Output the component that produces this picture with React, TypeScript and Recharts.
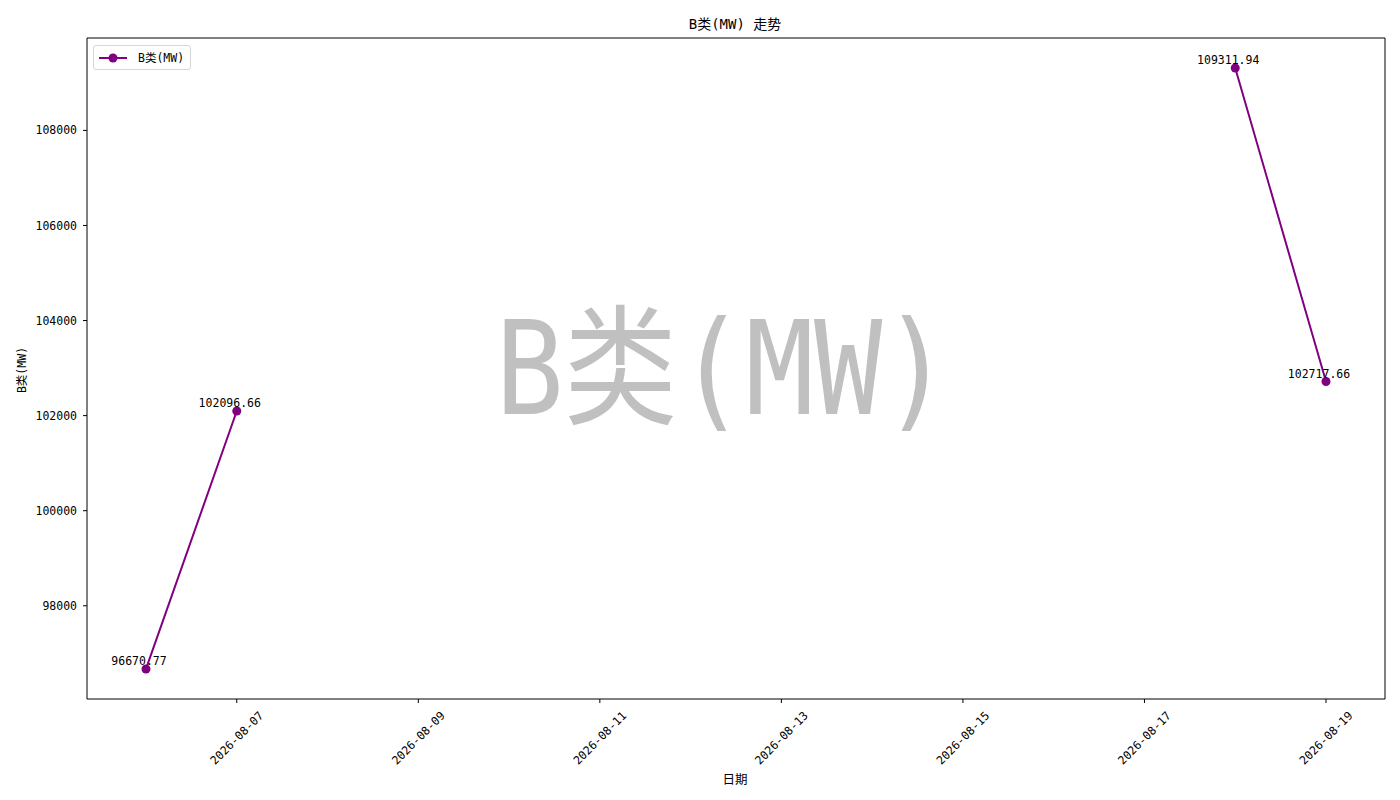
import React from 'react'
import { LineChart, Line, XAxis, YAxis, ReferenceArea, LabelList } from 'recharts'

const FONT = "'DejaVu Sans Mono', 'Noto Sans CJK SC', monospace"
const PURPLE = '#800080'

const dates = [
  '2026-08-06', '2026-08-07', '2026-08-08', '2026-08-09', '2026-08-10', '2026-08-11', '2026-08-12',
  '2026-08-13', '2026-08-14', '2026-08-15', '2026-08-16', '2026-08-17', '2026-08-18', '2026-08-19',
]
const values: (number | null)[] = [
  96670.77, 102096.66, null, null, null, null, null,
  null, null, null, null, null, 109311.94, 102717.66,
]
const xTickLabels = ['2026-08-07', '2026-08-09', '2026-08-11', '2026-08-13', '2026-08-15', '2026-08-17', '2026-08-19']
const yTicks = [98000, 100000, 102000, 104000, 106000, 108000]

const seriesName = 'B类(MW)'
const title = 'B类(MW) 走势'
const xLabel = '日期'

const DAY = 86400000
const toTime = (s: string) => Date.parse(s + 'T00:00:00Z')
const fmtDate = (t: number) => new Date(t).toISOString().slice(0, 10)

const data = dates.map((d, i) => ({ t: toTime(d), value: values[i] }))

// matplotlib-style 5% margins
const t0 = toTime(dates[0])
const t1 = toTime(dates[dates.length - 1])
const xDomain = [t0 - (t1 - t0) * 0.05, t1 + (t1 - t0) * 0.05]
const nums = values.filter((v): v is number => v !== null)
const vMin = Math.min(...nums)
const vMax = Math.max(...nums)
const yDomain = [vMin - (vMax - vMin) * 0.05, vMax + (vMax - vMin) * 0.05]

const W = 1400
const H = 800
const M = { top: 38, right: 15, left: 0, bottom: 0 }
const Y_W = 87
const X_H = 101

function XTick({ x, y, payload }: any) {
  return (
    <g transform={`translate(${x},${y})`}>
      <text
        transform="translate(0,33) rotate(-45)"
        textAnchor="middle"
        dominantBaseline="central"
        fontFamily={FONT}
        fontSize={11.5}
        fill="#000"
      >
        {fmtDate(payload.value)}
      </text>
    </g>
  )
}

function PointLabel({ x, y, value }: any) {
  if (value === null || value === undefined) return null
  return (
    <text x={x - 7} y={y - 4} textAnchor="middle" fontFamily={FONT} fontSize={11.5} fill="#000">
      {Number(value).toFixed(2)}
    </text>
  )
}

function Watermark({ viewBox }: any) {
  if (!viewBox) return null
  return (
    <text
      x={viewBox.x + viewBox.width / 2 - 13}
      y={viewBox.y + viewBox.height / 2 + 45}
      textAnchor="middle"
      fontFamily={FONT}
      fontSize={130}
      textLength={455}
      lengthAdjust="spacingAndGlyphs"
      fill="#c0c0c0"
    >
      {seriesName}
    </text>
  )
}

export default function App() {
  return (
    <div style={{ position: 'absolute', left: 0, top: 0, width: W, height: H, background: '#fff' }}>
      <LineChart width={W} height={H} data={data} margin={M}>
        <XAxis
          dataKey="t"
          type="number"
          scale="time"
          domain={xDomain}
          ticks={xTickLabels.map(toTime)}
          height={X_H}
          axisLine={false}
          tickLine={{ stroke: '#000' }}
          tickSize={4}
          tick={<XTick />}
          allowDataOverflow
        />
        <YAxis
          type="number"
          domain={yDomain}
          ticks={yTicks}
          width={Y_W}
          axisLine={false}
          tickLine={{ stroke: '#000' }}
          tickSize={4}
          tickMargin={6}
          tick={{ fontFamily: FONT, fontSize: 11.5, fill: '#000' }}
          allowDataOverflow
        />
        <ReferenceArea
          x1={xDomain[0]}
          x2={xDomain[1]}
          y1={yDomain[0]}
          y2={yDomain[1]}
          fill="none"
          stroke="#000"
          strokeWidth={1}
          fillOpacity={0}
          ifOverflow="visible"
          label={<Watermark />}
        />
        <Line
          dataKey="value"
          type="linear"
          stroke={PURPLE}
          strokeWidth={2}
          connectNulls={false}
          dot={{ r: 4.5, fill: PURPLE, stroke: 'none' }}
          activeDot={false}
          isAnimationActive={false}
        >
          <LabelList dataKey="value" content={<PointLabel />} />
        </Line>
      </LineChart>

      <svg width={W} height={H} style={{ position: 'absolute', left: 0, top: 0, pointerEvents: 'none' }}>
        <text x={735} y={24} textAnchor="middle" dominantBaseline="central" fontFamily={FONT} fontSize={14} fill="#000">
          {title}
        </text>
        <text x={735} y={779} textAnchor="middle" dominantBaseline="central" fontFamily={FONT} fontSize={12.5} fill="#000">
          {xLabel}
        </text>
        <text
          transform="translate(22,370) rotate(-90)"
          textAnchor="middle"
          dominantBaseline="central"
          fontFamily={FONT}
          fontSize={11.5}
          fill="#000"
        >
          {seriesName}
        </text>
      </svg>

      <div
        style={{
          position: 'absolute', left: 93, top: 45, width: 96, height: 23,
          border: '1px solid #d6d6d6', borderRadius: 3, background: 'rgba(255,255,255,0.8)',
        }}
      >
        <svg width={96} height={23} style={{ display: 'block' }}>
          <line x1={5} y1={12} x2={33} y2={12} stroke={PURPLE} strokeWidth={2} />
          <circle cx={19} cy={12} r={4.5} fill={PURPLE} />
          <text x={44} y={12} dominantBaseline="central" fontFamily={FONT} fontSize={11.5} fill="#000">
            {seriesName}
          </text>
        </svg>
      </div>
    </div>
  )
}
